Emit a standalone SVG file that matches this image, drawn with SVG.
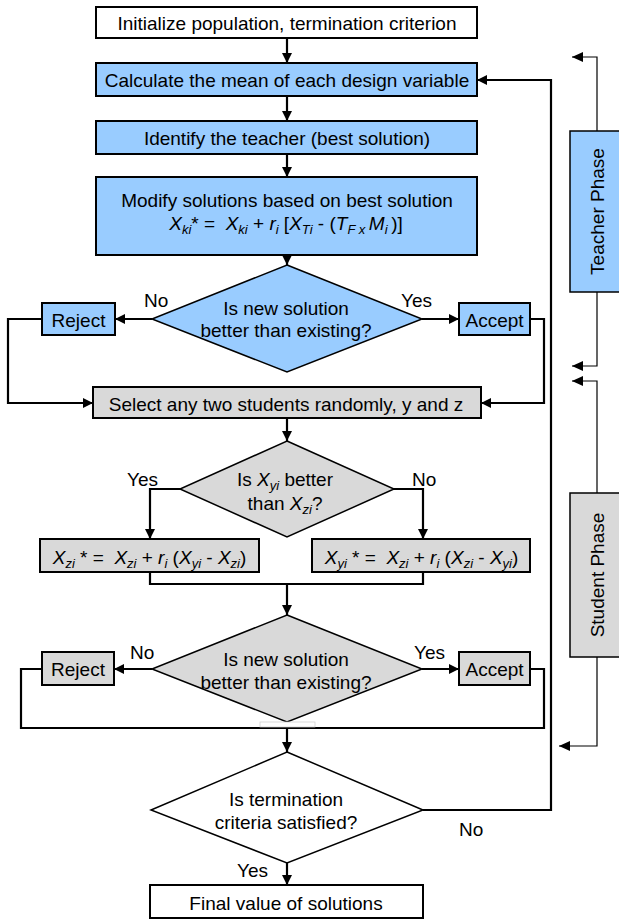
<svg xmlns="http://www.w3.org/2000/svg" width="619" height="920" viewBox="0 0 619 920">
<style>
.t{font-family:"Liberation Sans",Arial,sans-serif;font-size:19px;fill:#000;text-anchor:middle;white-space:pre}
.l{font-family:"Liberation Sans",Arial,sans-serif;font-size:19px;fill:#000}
.i{font-style:italic}
.s{font-size:13px}
.box{stroke:#000;stroke-width:2}
.dia{stroke:#000;stroke-width:1.5}
.blue{fill:#99CCFF}
.gray{fill:#D9D9D9}
.white{fill:#fff}
.c{fill:none;stroke:#000;stroke-width:2.2}
.thin{fill:none;stroke:#000;stroke-width:1.2}
.ph{font-family:"Liberation Sans",Arial,sans-serif;font-size:19px;fill:#000;text-anchor:middle}
</style>
<defs>
<marker id="ah" markerUnits="userSpaceOnUse" markerWidth="11" markerHeight="10" refX="10" refY="5" orient="auto"><path d="M0,0 L10,5 L0,10 z" fill="#000"/></marker>
<marker id="ahs" markerUnits="userSpaceOnUse" markerWidth="12" markerHeight="10" refX="11" refY="5" orient="auto"><path d="M0,0 L11,5 L0,10 z" fill="#000"/></marker>
</defs>
<rect width="619" height="920" fill="#fff"/>

<g id="connectors">
<path class="c" d="M287,38 V63" marker-end="url(#ah)"/>
<path class="c" d="M287,96 V121" marker-end="url(#ah)"/>
<path class="c" d="M287,154 V177" marker-end="url(#ah)"/>
<path class="c" d="M287,255 V265" marker-end="url(#ah)"/>
<path class="c" d="M152,319 H115" marker-end="url(#ah)"/>
<path class="c" d="M422,319 H459" marker-end="url(#ah)"/>
<path class="c" d="M42,319 H8 V403 H93" marker-end="url(#ah)"/>
<path class="c" d="M530,319 H544 V403 H481" marker-end="url(#ah)"/>
<path class="c" d="M287,418 V441" marker-end="url(#ah)"/>
<path class="c" d="M180,489 H150 V539" marker-end="url(#ah)"/>
<path class="c" d="M394,489 H423 V539" marker-end="url(#ah)"/>
<path class="c" d="M150,572 V584 H423 V572"/>
<path class="c" d="M287,584 V615" marker-end="url(#ah)"/>
<path class="c" d="M152,669 H114" marker-end="url(#ah)"/>
<path class="c" d="M422,669 H459" marker-end="url(#ah)"/>
<path class="c" d="M42,669 H21 V728 H544 V669 H530"/>
<path class="c" d="M287,728 V752" marker-end="url(#ah)"/>
<path class="c" d="M423,810 H551 V80 H477" marker-end="url(#ah)"/>
<path class="c" d="M287,863 V885" marker-end="url(#ah)"/>
<path class="thin" d="M597,131 V57 H572" marker-end="url(#ahs)"/>
<path class="thin" d="M597,292 V366 H572" marker-end="url(#ahs)"/>
<path class="thin" d="M597,493 V381 H572" marker-end="url(#ahs)"/>
<path class="thin" d="M597,657 V746 H559" marker-end="url(#ahs)"/>
<text class="l" x="144" y="307">No</text>
<text class="l" x="401" y="307">Yes</text>
<text class="l" x="127" y="486">Yes</text>
<text class="l" x="412" y="486">No</text>
<text class="l" x="130" y="659">No</text>
<text class="l" x="414" y="659">Yes</text>
<text class="l" x="459" y="836">No</text>
<text class="l" x="237" y="877">Yes</text>
</g>

<g id="n_init">
<rect class="box white" x="96" y="7" width="381" height="31"/>
<text class="t" x="287" y="30">Initialize population, termination criterion</text>
</g>
<g id="n_mean">
<rect class="box blue" x="96" y="63" width="381" height="33"/>
<text class="t" x="287" y="87">Calculate the mean of each design variable</text>
</g>
<g id="n_teacher">
<rect class="box blue" x="96" y="121" width="381" height="33"/>
<text class="t" x="287" y="145">Identify the teacher (best solution)</text>
</g>
<g id="n_modify">
<rect class="box blue" x="96" y="177" width="381" height="78"/>
<text class="t" x="287" y="207">Modify solutions based on best solution</text>
<text class="t" x="286" y="230"><tspan class="i">X</tspan><tspan class="i s" dy="4">ki</tspan><tspan dy="-4">* =  </tspan><tspan class="i">X</tspan><tspan class="i s" dy="4">ki</tspan><tspan dy="-4"> + </tspan><tspan class="i">r</tspan><tspan class="i s" dy="4">i</tspan><tspan dy="-4"> [</tspan><tspan class="i">X</tspan><tspan class="i s" dy="4">Ti</tspan><tspan dy="-4"> - (</tspan><tspan class="i">T</tspan><tspan class="i s" dy="4">F x </tspan><tspan class="i" dy="-4">M</tspan><tspan class="i s" dy="4">i </tspan><tspan dy="-4">)]</tspan></text>
</g>
<g id="n_dec1">
<polygon class="dia blue" points="287,265 422,319 287,372 152,319"/>
<text class="t" x="286" y="315">Is new solution</text>
<text class="t" x="286" y="337">better than existing?</text>
</g>
<g id="n_reject1">
<rect class="box blue" x="42" y="303" width="73" height="32"/>
<text class="t" x="78.5" y="327">Reject</text>
</g>
<g id="n_accept1">
<rect class="box blue" x="459" y="303" width="71" height="32"/>
<text class="t" x="494.5" y="327">Accept</text>
</g>
<g id="n_select">
<rect class="box gray" x="93" y="387" width="388" height="31"/>
<text class="t" x="286" y="411">Select any two students randomly, y and z</text>
</g>
<g id="n_dec2">
<polygon class="dia gray" points="287,441 394,489 287,537 180,489"/>
<text class="t" x="285" y="486">Is <tspan class="i">X</tspan><tspan class="i s" dy="4">yi</tspan><tspan dy="-4"> better</tspan></text>
<text class="t" x="285" y="510">than <tspan class="i">X</tspan><tspan class="i s" dy="4">zi</tspan><tspan dy="-4">?</tspan></text>
</g>
<g id="n_upz">
<rect class="box gray" x="40" y="539" width="219" height="33"/>
<text class="t" x="149.5" y="564"><tspan class="i">X</tspan><tspan class="i s" dy="4">zi</tspan><tspan dy="-4"> * =  </tspan><tspan class="i">X</tspan><tspan class="i s" dy="4">zi</tspan><tspan dy="-4"> + </tspan><tspan class="i">r</tspan><tspan class="i s" dy="4">i</tspan><tspan dy="-4"> (</tspan><tspan class="i">X</tspan><tspan class="i s" dy="4">yi</tspan><tspan dy="-4"> - </tspan><tspan class="i">X</tspan><tspan class="i s" dy="4">zi</tspan><tspan dy="-4">)</tspan></text>
</g>
<g id="n_upy">
<rect class="box gray" x="312" y="539" width="218" height="33"/>
<text class="t" x="421.5" y="564"><tspan class="i">X</tspan><tspan class="i s" dy="4">yi</tspan><tspan dy="-4"> * =  </tspan><tspan class="i">X</tspan><tspan class="i s" dy="4">zi</tspan><tspan dy="-4"> + </tspan><tspan class="i">r</tspan><tspan class="i s" dy="4">i</tspan><tspan dy="-4"> (</tspan><tspan class="i">X</tspan><tspan class="i s" dy="4">zi</tspan><tspan dy="-4"> - </tspan><tspan class="i">X</tspan><tspan class="i s" dy="4">yi</tspan><tspan dy="-4">)</tspan></text>
</g>
<g id="n_dec3">
<polygon class="dia gray" points="287,615 422,669 287,722 152,669"/>
<text class="t" x="286" y="666">Is new solution</text>
<text class="t" x="286" y="689">better than existing?</text>
<rect x="260" y="722" width="55" height="5" fill="#fff" stroke="#ccc" stroke-width="0.7"/>
</g>
<g id="n_reject2">
<rect class="box gray" x="42" y="652" width="72" height="33"/>
<text class="t" x="78" y="676">Reject</text>
</g>
<g id="n_accept2">
<rect class="box gray" x="459" y="652" width="71" height="33"/>
<text class="t" x="494.5" y="676">Accept</text>
</g>
<g id="n_term">
<polygon class="dia white" points="287,752 423,810 287,863 151,810"/>
<text class="t" x="286" y="806">Is termination</text>
<text class="t" x="286" y="829">criteria satisfied?</text>
</g>
<g id="n_final">
<rect class="box white" x="150" y="885" width="273" height="33"/>
<text class="t" x="286" y="910">Final value of solutions</text>
</g>
<g id="n_teacher_phase">
<rect x="570" y="131" width="60" height="161" fill="#99CCFF" stroke="#000" stroke-width="1.5"/>
<text class="ph" transform="translate(604,211.5) rotate(-90)">Teacher Phase</text>
</g>
<g id="n_student_phase">
<rect x="570" y="493" width="60" height="164" fill="#D9D9D9" stroke="#000" stroke-width="1.5"/>
<text class="ph" transform="translate(604,575) rotate(-90)">Student Phase</text>
</g>
</svg>
